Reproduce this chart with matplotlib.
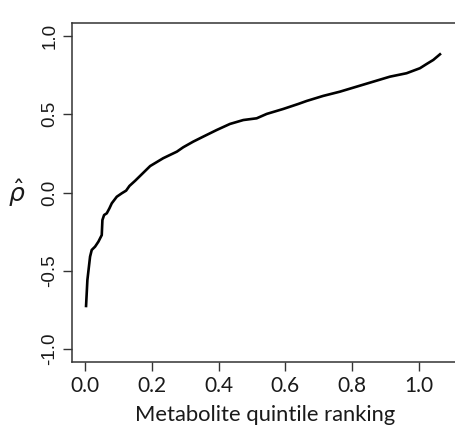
import matplotlib
matplotlib.use('Agg')
import matplotlib.pyplot as plt

# curve (sorted correlations vs. quintile ranking)
rank = [0.003, 0.007, 0.015, 0.020, 0.030, 0.040, 0.050, 0.052, 0.057, 0.065,
        0.073, 0.080, 0.095, 0.110, 0.123, 0.133, 0.150, 0.195, 0.234, 0.275,
        0.294, 0.324, 0.354, 0.394, 0.434, 0.474, 0.514, 0.544, 0.594, 0.639,
        0.664, 0.713, 0.763, 0.813, 0.863, 0.913, 0.963, 1.003, 1.023, 1.043,
        1.063]
rho = [-0.725, -0.559, -0.410, -0.367, -0.346, -0.314, -0.272, -0.176, -0.144, -0.133,
       -0.101, -0.069, -0.027, -0.005, 0.012, 0.042, 0.075, 0.169, 0.219, 0.261,
       0.289, 0.325, 0.357, 0.399, 0.438, 0.463, 0.474, 0.502, 0.534, 0.566,
       0.585, 0.617, 0.644, 0.676, 0.708, 0.740, 0.762, 0.794, 0.821, 0.847,
       0.883]
xticks = [0.0, 0.2, 0.4, 0.6, 0.8, 1.0]
yticks = [-1.0, -0.5, 0.0, 0.5, 1.0]

INK = '#333333'
fig = plt.figure(figsize=(4.56, 4.29), dpi=100)
ax = fig.add_axes([71.7/456, 1-361.7/429, (458-71.7)/456, (361.7-23.3)/429])
ax.plot(rank, rho, color='black', lw=1.9, solid_joinstyle='round')
ax.set_xlim(-0.04, 1.117)
ax.set_ylim(-1.081, 1.081)

ax.set_xticks(xticks)
ax.set_xticklabels([f'{v:.1f}' for v in xticks], fontfamily='Lato', fontsize=15)
ax.set_yticks(yticks)
ax.set_yticklabels([f'{v:.1f}' for v in yticks], fontfamily='Liberation Sans',
                   fontsize=13.5, rotation=90, va='center')
ax.tick_params(axis='both', length=6.5, width=1, color=INK, labelcolor='#1a1a1a')
ax.tick_params(axis='x', pad=4)
ax.tick_params(axis='y', pad=3)
for s in ax.spines.values():
    s.set_color(INK); s.set_linewidth(1.1)
ax.spines['right'].set_visible(False)

ax.set_xlabel('Metabolite quintile ranking', fontfamily='Lato', fontsize=15.8,
              color='#1a1a1a', labelpad=6.5)
fig.text(17/456, 1-193/429, r'$\hat{\rho}$', fontsize=18, ha='center', va='center',
         color='#1a1a1a')

fig.savefig('out.png', dpi=100, facecolor='white')
